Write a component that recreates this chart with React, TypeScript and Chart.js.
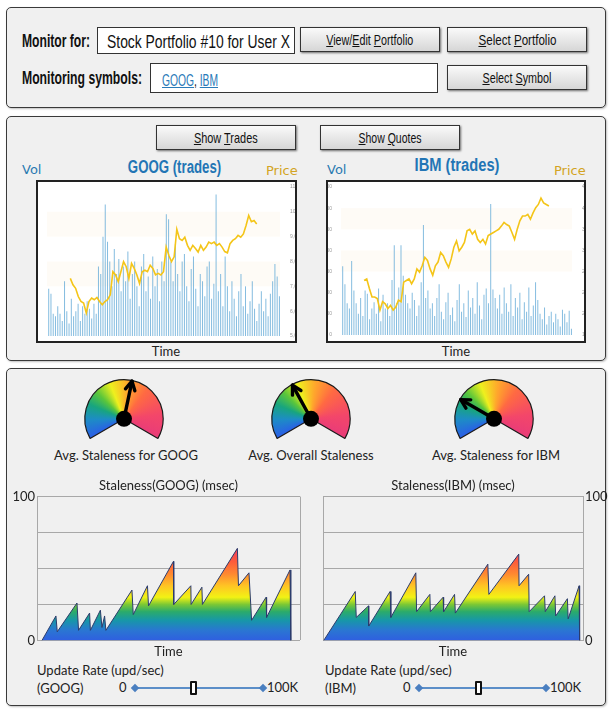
import React, { useEffect, useRef } from "react";
import { Chart, registerables } from "chart.js";
Chart.register(...registerables);

// ---------------- DATA ----------------
const googVol = [19, 17, 9, 8, 12, 9, 6, 22, 10, 5, 15, 8, 10, 13, 6, 12, 9, 14, 11, 7, 13, 9,
  28, 25, 40, 53, 38, 30, 20, 35, 25,
  31, 18, 28, 22, 34, 15, 25, 30, 20, 12, 28, 33, 18, 24, 15, 32, 20, 27, 14, 30, 22, 49,
  47, 30, 22, 37, 25, 18, 30, 33, 20, 14, 27, 32, 19, 12, 25, 22, 16, 28, 30, 15, 21, 57,
  18, 25, 12, 32, 20, 10, 22, 15, 8, 18, 25, 12, 20, 9, 14, 22, 11, 6, 13, 18, 10, 15, 8, 17, 22, 29, 24, 16];
const googPrice = [7320, 7060, 6920, 6590, 6390, 6330, 5930, 6390, 6530, 6460, 6550, 6390, 6260, 6390, 6460, 6660,
  7590, 7460, 7190, 7590, 7990, 7790, 7320, 7920, 7720, 7460, 7120, 7590, 7650, 7590, 7850, 7720, 7460, 7520, 7460, 7590,
  8580, 8250, 7990, 8190, 9300, 8920, 8850, 8980, 8650, 8450, 8650, 8520, 8380, 8650, 8450, 8580, 8780, 8720, 8780, 8650,
  8720, 8580, 8400, 8350, 8720, 8850, 8920, 9050, 8980, 9110, 9450, 9850, 9600, 9650, 9510];
const ibmVol = [650, 480, 300, 250, 700, 420, 300, 200, 350, 180, 420, 390, 150, 250, 310, 200, 440, 130, 380, 250, 300, 180,
  520, 850, 300, 450, 850, 560, 380, 300, 250, 400, 330, 180, 280, 500, 1040, 350,
  420, 250, 300, 180, 350, 480, 220, 150, 310, 400, 190, 260, 130, 330, 480, 220, 300, 170, 420, 260, 350, 200, 500, 280, 150, 380, 440, 300,
  1240, 430, 350, 250, 380, 200, 450, 300, 220, 480, 180, 350, 260, 400, 150, 310, 220, 450, 180, 280, 500, 330, 200, 150, 260, 100, 180, 220, 120, 200, 150, 80, 240, 200, 120, 230, 60];
const ibmPrice = [26.3, 26.6, 24.8, 23.2, 23.2, 22.9, 20.7, 22.3, 21.9, 21.0, 21.6, 20.7, 21.3, 22.6, 22.3, 26.0, 26.3, 26.6, 25.7, 26.6,
  28.5, 27.9, 29.1, 30.7, 30.1, 28.5, 27.3, 29.1, 29.8, 31.6, 31.0, 29.8, 28.8, 30.4, 32.6, 33.8, 31.9, 32.6, 33.5, 35.7,
  36.0, 35.1, 35.7, 34.1, 33.5, 34.1, 33.2, 34.8, 35.1, 35.4, 35.7, 36.0, 36.6, 37.3, 36.9, 36.6, 35.4, 34.1, 36.0, 37.6,
  38.5, 38.5, 38.8, 37.9, 39.1, 40.1, 40.7, 41.9, 41.0, 40.7, 40.4];

const googVolTicks = { min: 0, max: 60, step: 10 };
const googPriceTicks = { min: 5000, max: 11000, step: 1000 };
const ibmVolTicks = { min: 0, max: 1400, step: 200 };
const ibmPriceTicks = { min: 16, max: 44, step: 4 };

const gaugeLabels = ["Avg. Staleness for GOOG", "Avg. Overall Staleness", "Avg. Staleness for IBM"];
const gaugeValues = [55, 38, 25];

const googStaleT = [1.9, 7.2, 7.7, 15.2, 15.8, 20.0, 20.3, 24.1, 24.7, 25.7, 26.2, 36.1, 36.6, 42.0, 42.4, 51.9, 52.0, 58.5, 58.6, 62.7, 62.9, 76.2, 76.6, 80.6, 81.6, 87.1, 87.3, 96.2, 96.5];
const googStaleV = [0, 17, 6, 26, 7, 19, 7, 21, 9, 17, 7, 35, 18, 38, 24, 55, 25, 38, 25, 37, 25, 64, 38, 47, 14, 30, 16, 49, 0];
const ibmStaleT = [0.3, 12.4, 12.8, 17.5, 17.6, 25.8, 26.1, 35.7, 36.0, 41.1, 41.3, 46.2, 46.4, 50.6, 50.9, 63.4, 63.8, 75.3, 75.4, 79.1, 79.3, 85.2, 85.5, 89.2, 89.5, 94.0, 94.3, 98.5, 98.7];
const ibmStaleV = [0, 34, 16, 24, 10, 34, 16, 47, 20, 32, 20, 30, 20, 32, 19, 53, 32, 60, 38, 46, 20, 31, 20, 31, 17, 29, 15, 38, 0];
const staleTicks = [0, 100];

// ---------------- STYLE ----------------
const NARROW = "'Liberation Sans', Arimo, sans-serif";
const BODY = "Lato, 'Open Sans', sans-serif";
const GAUGE_ROT = -120;
const GAUGE_SWEEP = 240;

const measureCtx: any = typeof document !== "undefined" ? document.createElement("canvas").getContext("2d") : null;
function textScale(text: string, font: string, w: number) {
  if (!measureCtx) return 1;
  measureCtx.font = font;
  const m = measureCtx.measureText(text).width;
  return m > 0 ? w / m : 1;
}

function useChart(ref: any, make: () => any) {
  useEffect(() => {
    const c = new Chart(ref.current, make());
    return () => c.destroy();
  }, []);
}

const abs = (left: number, top: number, extra: any = {}) => ({ position: "absolute" as const, left, top, ...extra });

function Panel({ top, height }: { top: number; height: number }) {
  return <div style={abs(6, top, { width: 600, height, boxSizing: "border-box", border: "1.5px solid #3a3a3a", borderRadius: 5, background: "#f0f0f0", boxShadow: "1px 1px 2px rgba(0,0,0,0.25)" })} />;
}

// narrow text: real text, horizontally condensed to a target width
function Narrow({ text, w, size, bold = false, origin = "left center", children, color = "#111" }: any) {
  const font = `${bold ? "bold " : ""}${size}px ${NARROW}`;
  const k = textScale(text, font, w);
  return (
    <span style={{ display: "inline-block", font, lineHeight: `${size}px`, color, whiteSpace: "nowrap", transform: `scaleX(${k})`, transformOrigin: origin }}>
      {children ?? text}
    </span>
  );
}

function Btn({ left, top, width, height = 25, text, w, children }: any) {
  return (
    <div style={abs(left, top, {
      width, height, boxSizing: "border-box", border: "1px solid #333",
      background: "linear-gradient(#fafafa, #d6d6d6)", boxShadow: "1px 1px 2px rgba(0,0,0,0.55)",
      display: "flex", alignItems: "center", justifyContent: "center",
    })}>
      <Narrow text={text} w={w} size={15} origin="center center">{children}</Narrow>
    </div>
  );
}

function Txt({ left, top, children, style }: any) {
  return <div style={abs(left, top, { whiteSpace: "nowrap", ...style })}>{children}</div>;
}

function CenterTxt({ cx, top, width = 200, children, style }: any) {
  return <div style={abs(cx - width / 2, top, { width, textAlign: "center", whiteSpace: "nowrap", ...style })}>{children}</div>;
}

// ---------------- TRADES CHART ----------------
function bandsPlugin(ranges: number[][]) {
  return {
    id: "bands",
    beforeDatasetsDraw(chart: any) {
      const y = chart.scales.y, a = chart.chartArea, ctx = chart.ctx;
      ctx.save();
      ctx.fillStyle = "rgba(252,242,222,0.28)";
      ranges.forEach(([lo, hi]) => {
        const t = y.getPixelForValue(hi), b = y.getPixelForValue(lo);
        ctx.fillRect(a.left, t, a.right - a.left, b - t);
      });
      ctx.restore();
    },
  };
}

function TradesChart({ left, top, width, height, vol, price, volT, priceT, priceFmt, leftW, rightW, padTop, padBottom, bands }: any) {
  const ref = useRef<HTMLCanvasElement>(null);
  const iw = width - 4, ih = height - 4;
  useChart(ref, () => ({
    type: "bar",
    data: {
      labels: vol.map((_: number, i: number) => String(i)),
      datasets: [
        { type: "line", data: price.map((p: number, i: number) => ({ x: i, y: p })), xAxisID: "x2", yAxisID: "y2",
          borderColor: "#f4c518", borderWidth: 1.6, pointRadius: 0, tension: 0, order: 0 },
        { type: "bar", data: vol, xAxisID: "x", yAxisID: "y", backgroundColor: "rgba(104,172,216,0.8)",
          borderWidth: 0, categoryPercentage: 1, barPercentage: 0.9, order: 1 },
      ],
    },
    options: {
      responsive: false, animation: false, events: [],
      layout: { padding: { top: padTop, bottom: padBottom, left: 0, right: 0 } },
      plugins: { legend: { display: false }, tooltip: { enabled: false } },
      scales: {
        x: { display: false },
        x2: { type: "linear", display: false, min: 0, max: price.length - 1 },
        y: { position: "left", min: volT.min, max: volT.max, grid: { display: false }, border: { display: false },
          ticks: { stepSize: volT.step, font: { size: 5 }, color: "#999", padding: 1 },
          afterFit: (s: any) => { s.width = leftW; } },
        y2: { position: "right", min: priceT.min, max: priceT.max, grid: { display: false }, border: { display: false },
          ticks: { stepSize: priceT.step, font: { size: 5 }, color: "#999", padding: 2, callback: priceFmt },
          afterFit: (s: any) => { s.width = rightW; } },
      },
    },
    plugins: [bandsPlugin(bands)],
  }));
  return (
    <div style={abs(left, top, { width, height, boxSizing: "border-box", border: "2px solid #222", background: "#fff" })}>
      <canvas ref={ref} width={iw} height={ih} style={{ display: "block", width: iw, height: ih }} />
    </div>
  );
}

// ---------------- GAUGE ----------------
function needlePlugin(value: number) {
  return {
    id: "needle",
    afterDatasetsDraw(chart: any) {
      const arc = chart.getDatasetMeta(0).data[0];
      if (!arc) return;
      const { x, y, outerRadius } = arc.getProps(["x", "y", "outerRadius"], true);
      const ctx = chart.ctx;
      const ang = ((GAUGE_ROT + (value / 100) * GAUGE_SWEEP - 90) * Math.PI) / 180;
      const L = outerRadius * 0.98;
      const tx = x + Math.cos(ang) * L, ty = y + Math.sin(ang) * L;
      ctx.save();
      ctx.strokeStyle = "#000";
      ctx.lineWidth = 3.4;
      ctx.lineCap = "round";
      ctx.lineJoin = "round";
      ctx.beginPath(); ctx.moveTo(x, y); ctx.lineTo(tx, ty); ctx.stroke();
      const h = 10, w = 0.5;
      ctx.beginPath();
      ctx.moveTo(tx - Math.cos(ang - w) * h, ty - Math.sin(ang - w) * h);
      ctx.lineTo(tx, ty);
      ctx.lineTo(tx - Math.cos(ang + w) * h, ty - Math.sin(ang + w) * h);
      ctx.stroke();
      ctx.beginPath(); ctx.arc(x, y, 8, 0, Math.PI * 2); ctx.fillStyle = "#000"; ctx.fill();
      ctx.restore();
    },
  };
}

function Gauge({ cx, cy, value }: any) {
  const ref = useRef<HTMLCanvasElement>(null);
  const W = 86, H = 64;
  useChart(ref, () => ({
    type: "doughnut",
    data: {
      labels: ["gauge"],
      datasets: [{
        data: [1], borderColor: "#1a1a1a", borderWidth: 1.2,
        backgroundColor: (c: any) => {
          const chart = c.chart, a = chart.chartArea;
          if (!a) return "#ccc";
          const ctrl: any = chart.getDatasetMeta(0).controller;
          const x = (a.left + a.right) / 2 + (ctrl.offsetX || 0);
          const y = (a.top + a.bottom) / 2 + (ctrl.offsetY || 0);
          const g = chart.ctx.createConicGradient(((GAUGE_ROT - 90) * Math.PI) / 180, x, y);
          const f = GAUGE_SWEEP / 360;
          g.addColorStop(0, "#2a5fe6");
          g.addColorStop(0.12 * f, "#1d8cc6");
          g.addColorStop(0.22 * f, "#18a57e");
          g.addColorStop(0.31 * f, "#5cc63a");
          g.addColorStop(0.41 * f, "#eef01e");
          g.addColorStop(0.53 * f, "#ffa62c");
          g.addColorStop(0.66 * f, "#ff6a42");
          g.addColorStop(0.85 * f, "#f3466a");
          g.addColorStop(f, "#e93c78");
          g.addColorStop(1, "#e93c78");
          return g;
        },
      }],
    },
    options: {
      responsive: false, animation: false, events: [],
      rotation: GAUGE_ROT, circumference: GAUGE_SWEEP, cutout: 0,
      layout: { padding: 2 },
      plugins: { legend: { display: false }, tooltip: { enabled: false } },
    },
    plugins: [needlePlugin(value)],
  }));
  return <canvas ref={ref} width={W} height={H} style={abs(cx - 43, cy - 42, { width: W, height: H })} />;
}

// ---------------- STALENESS ----------------
function staleFill(c: any) {
  const chart = c.chart, a = chart.chartArea;
  if (!a) return "rgba(0,0,0,0)";
  const g = chart.ctx.createLinearGradient(0, a.bottom, 0, a.top);
  g.addColorStop(0, "#2f5fe0");
  g.addColorStop(0.07, "#2a76d2");
  g.addColorStop(0.14, "#1797a8");
  g.addColorStop(0.2, "#2bab6a");
  g.addColorStop(0.25, "#7cc834");
  g.addColorStop(0.3, "#f2f214");
  g.addColorStop(0.38, "#ffc424");
  g.addColorStop(0.46, "#ff8a30");
  g.addColorStop(0.55, "#fd5a3c");
  g.addColorStop(0.65, "#f03a6a");
  g.addColorStop(1, "#e8307a");
  return g;
}

function StaleChart({ left, top, width, height, xs, ys, title, side }: any) {
  const ref = useRef<HTMLCanvasElement>(null);
  const font = { family: BODY, size: 13, weight: "normal" };
  useChart(ref, () => ({
    type: "line",
    data: {
      datasets: [{
        data: xs.map((x: number, i: number) => ({ x, y: ys[i] })),
        fill: "origin", borderColor: "#2b3b6c", borderWidth: 1, pointRadius: 0, tension: 0,
        backgroundColor: staleFill,
      }],
    },
    options: {
      responsive: false, animation: false, events: [],
      layout: { padding: { top: 0, bottom: 0, left: side === "right" ? 1 : 0, right: side === "left" ? 4 : 0 } },
      plugins: {
        legend: { display: false }, tooltip: { enabled: false },
        title: { display: true, text: title, fullSize: false, font, color: "#222", padding: { top: 0, bottom: 3 } },
      },
      scales: {
        x: { type: "linear", min: 0, max: 100,
          ticks: { display: false, stepSize: 100 },
          grid: { color: "#a8a8a8", drawTicks: false }, border: { display: false },
          title: { display: true, text: "Time", font, color: "#222", padding: { top: 4, bottom: 0 } } },
        y: { position: side, min: 0, max: 100,
          ticks: { stepSize: 25, font, color: "#222", padding: 2,
            callback: (v: number) => (staleTicks.includes(v) ? String(v) : "") },
          grid: { color: "#a8a8a8", drawTicks: false }, border: { color: "#a8a8a8" },
          afterFit: (s: any) => { s.width = side === "left" ? 29 : 26; } },
      },
    },
  }));
  return <canvas ref={ref} width={width} height={height} style={abs(left, top, { width, height })} />;
}

function Slider({ zeroX, x1, x2, thumb, y }: any) {
  const dia = (x: number) => (
    <div style={abs(x - 3, y - 3, { width: 6, height: 6, background: "#4a7fc0", transform: "rotate(45deg)" })} />
  );
  return (
    <>
      <Txt left={zeroX - 8} top={y - 9} style={{ fontFamily: BODY, fontSize: 13, color: "#222" }}>0</Txt>
      <div style={abs(x1, y - 0.75, { width: x2 - x1, height: 1.5, background: "#5b8ec8" })} />
      {dia(x1)}
      {dia(x2)}
      <div style={abs(thumb - 3.5, y - 7, { width: 7, height: 14, boxSizing: "border-box", border: "2px solid #111", background: "#fff", borderRadius: 1 })} />
      <Txt left={x2 + 4} top={y - 9} style={{ fontFamily: BODY, fontSize: 13, color: "#222" }}>100K</Txt>
    </>
  );
}

export default function App() {
  useEffect(() => { document.body.style.margin = "0"; }, []);
  const body13 = { fontFamily: BODY, fontSize: 13, color: "#222" };
  const link = { color: "#2a7ab8", textDecoration: "underline" };
  const blue = "#2275b5";
  return (
    <div style={{ position: "absolute", left: 0, top: 0, width: 611, height: 709, background: "#fff", fontFamily: BODY, overflow: "hidden" }}>
      {/* Panel 1 */}
      <Panel top={7} height={101} />
      <Txt left={22} top={31}><Narrow text="Monitor for:" w={68} size={18} bold /></Txt>
      <div style={abs(97, 27, { width: 198, height: 27, boxSizing: "border-box", border: "1px solid #333", background: "#fff", paddingLeft: 9, paddingTop: 4 })}>
        <Narrow text="Stock Portfolio #10 for User X" w={183} size={18} />
      </div>
      <Btn left={300} top={27} width={140} text="View/Edit Portfolio" w={87}><u>V</u>iew/<u>E</u>dit <u>P</u>ortfolio</Btn>
      <Btn left={447} top={27} width={140} text="Select Portfolio" w={78}><u>S</u>elect <u>P</u>ortfolio</Btn>
      <Txt left={22} top={68}><Narrow text="Monitoring symbols:" w={120} size={18} bold /></Txt>
      <div style={abs(150, 63, { width: 288, height: 30, boxSizing: "border-box", border: "1px solid #333", background: "#fff", paddingLeft: 11, paddingTop: 6 })}>
        <Narrow text="GOOG, IBM" w={56} size={17}><span style={link}>GOOG</span>, <span style={link}>IBM</span></Narrow>
      </div>
      <Btn left={447} top={65} width={140} text="Select Symbol" w={69}><u>S</u>elect <u>S</u>ymbol</Btn>

      {/* Panel 2 */}
      <Panel top={116} height={245} />
      <Btn left={156} top={125} width={140} text="Show Trades" w={64}><u>S</u>how <u>T</u>rades</Btn>
      <Btn left={320} top={125} width={140} text="Show Quotes" w={63}><u>S</u>how <u>Q</u>uotes</Btn>

      <Txt left={22} top={162} style={{ fontFamily: "'DejaVu Sans', sans-serif", fontSize: 13, color: "#2a7ab0" }}>Vol</Txt>
      <CenterTxt cx={175} top={157}><Narrow text="GOOG  (trades)" w={97} size={18} bold color={blue} origin="center center" /></CenterTxt>
      <Txt left={266} top={163} style={{ fontFamily: "'DejaVu Sans', sans-serif", fontSize: 13, color: "#d3a423" }}>Price</Txt>
      <TradesChart left={36} top={180} width={261} height={163} vol={googVol} price={googPrice}
        volT={googVolTicks} priceT={googPriceTicks} priceFmt={(v: number) => v.toLocaleString("en-US")}
        leftW={9} rightW={15} padTop={4} padBottom={4} bands={[[20, 30], [40, 50]]} />
      <CenterTxt cx={166} top={343} style={body13}>Time</CenterTxt>

      <Txt left={327} top={162} style={{ fontFamily: "'DejaVu Sans', sans-serif", fontSize: 13, color: "#2a7ab0" }}>Vol</Txt>
      <CenterTxt cx={457} top={155}><Narrow text="IBM  (trades)" w={89} size={18} bold color={blue} origin="center center" /></CenterTxt>
      <Txt left={554} top={163} style={{ fontFamily: "'DejaVu Sans', sans-serif", fontSize: 13, color: "#d3a423" }}>Price</Txt>
      <TradesChart left={326} top={180} width={260} height={163} vol={ibmVol} price={ibmPrice}
        volT={ibmVolTicks} priceT={ibmPriceTicks} priceFmt={(v: number) => v.toFixed(2)}
        leftW={13} rightW={12} padTop={4} padBottom={6} bands={[[600, 800], [1000, 1200]]} />
      <CenterTxt cx={456} top={343} style={body13}>Time</CenterTxt>

      {/* Panel 3 */}
      <Panel top={368} height={338} />
      <Gauge cx={124} cy={419} value={gaugeValues[0]} />
      <Gauge cx={311} cy={419} value={gaugeValues[1]} />
      <Gauge cx={494} cy={419} value={gaugeValues[2]} />
      <CenterTxt cx={126} top={447} style={body13}>{gaugeLabels[0]}</CenterTxt>
      <CenterTxt cx={311} top={447} style={body13}>{gaugeLabels[1]}</CenterTxt>
      <CenterTxt cx={496} top={447} style={body13}>{gaugeLabels[2]}</CenterTxt>

      <StaleChart left={8} top={478} width={296} height={182} xs={googStaleT} ys={googStaleV} title="Staleness(GOOG) (msec)" side="left" />
      <StaleChart left={322} top={478} width={287} height={182} xs={ibmStaleT} ys={ibmStaleV} title="Staleness(IBM) (msec)" side="right" />

      <Txt left={37} top={662} style={body13}>Update Rate (upd/sec)</Txt>
      <Txt left={37} top={680} style={body13}>(GOOG)</Txt>
      <Slider zeroX={127} x1={135} x2={263} thumb={193} y={688} />

      <Txt left={325} top={662} style={body13}>Update Rate (upd/sec)</Txt>
      <Txt left={325} top={680} style={body13}>(IBM)</Txt>
      <Slider zeroX={411} x1={419} x2={546} thumb={478} y={688} />
    </div>
  );
}
